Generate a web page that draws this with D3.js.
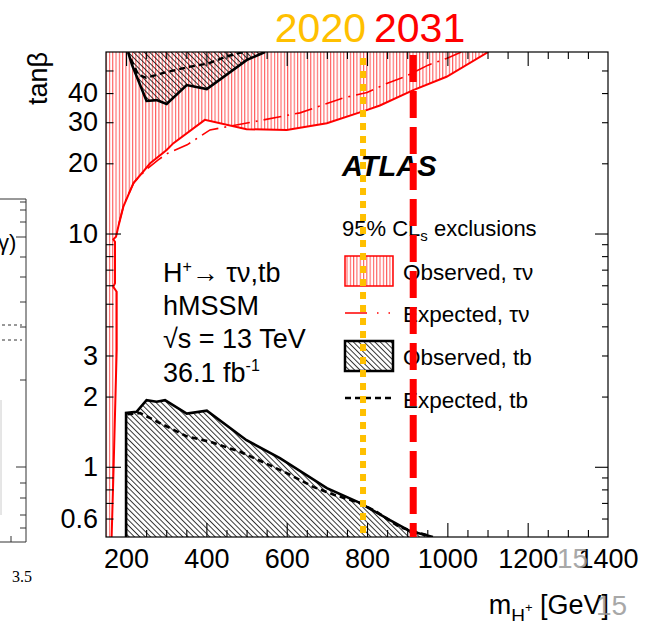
<!DOCTYPE html>
<html>
<head>
<meta charset="utf-8">
<script src="https://cdn.jsdelivr.net/npm/d3@7"></script>
<style>
  html, body { margin: 0; padding: 0; background: #fff; }
  svg { display: block; font-family: "Liberation Sans", Arial, Helvetica, sans-serif; }
</style>
</head>
<body>
<div id="chart"></div>
<script>
// axis labels
const massTicks = [200, 400, 600, 800, 1000, 1200, 1400];
const tanbTicks = [0.6, 1, 2, 3, 10, 20, 30, 40];

// [m_H+, tanb] boundaries
const obsTauNu = [[164, 0.5], [169, 1.0], [176.6, 3.17], [176.6, 5.63], [168.2, 5.91], [172.4, 6.12],
  [172.4, 9.22], [168.2, 9.44], [174.9, 9.69], [180.6, 10.7], [193, 13.0], [218, 16.4], [260, 20.0],
  [301, 22.8], [318, 24.4], [396, 30.7], [500, 28.0], [600, 27.8], [700, 29.7], [799, 33.8],
  [832, 35.4], [915, 41.2], [998, 47.0], [1102, 60]];
const expTauNu = [[182, 11], [195, 13.4], [220, 16.6], [250, 18.8], [280, 20.7], [304, 22.1],
  [352, 24], [409, 27.8], [516, 30.1], [633, 32.9], [740, 38.1], [800, 40.2], [849, 44],
  [894, 47], [952, 52.7], [998, 56.3], [1035, 60]];
const obsTbLow = [[200, 0.5], [200, 1.70], [226, 1.72], [251, 1.93], [276, 1.90], [297, 1.93],
  [351, 1.69], [401, 1.74], [500, 1.30], [583, 1.09], [700, 0.81], [782, 0.70], [857, 0.59],
  [907, 0.53], [964, 0.5]];
const expTbLow = [[203, 1.68], [235, 1.70], [284, 1.54], [351, 1.35], [409, 1.28], [484, 1.16],
  [550, 1.03], [600, 0.94], [666, 0.82], [716, 0.76], [782, 0.70], [824, 0.64], [882, 0.55],
  [948, 0.51]];
const obsTbHigh = [[205, 60], [215, 52.7], [251, 37], [276, 37.3], [301, 35.9], [351, 43.3],
  [401, 41.6], [500, 55.4], [546, 60]];
const expTbHigh = [[212, 56], [230, 48], [250, 46.5], [300, 49.2], [360, 51.9], [405, 53.6],
  [450, 57.4], [492, 60]];

// the two year markers drawn on the slide
const years = ['2020', '2031'];
const yearMass = [790, 915];
const yearColors = ['#FFC000', '#FF0000'];

// leftover bits of the neighbouring plot on the slide
const sideTicks = [202, 210, 222, 237, 257, 277, 302, 327, 380, 467, 483, 498, 515, 528];

const W = 654, H = 621;
const svg = d3.select('#chart').append('svg')
  .attr('width', W).attr('height', H)
  .attr('viewBox', `0 0 ${W} ${H}`);

const x = d3.scaleLinear().domain([150, 1400]).range([106, 608]);
const y = d3.scaleLog().domain([0.5, 60]).range([537, 52]);

const defs = svg.append('defs');
defs.append('pattern')
  .attr('id', 'redHatch')
  .attr('patternUnits', 'userSpaceOnUse')
  .attr('width', 3.3).attr('height', 10)
  .append('line')
  .attr('x1', 0.6).attr('x2', 0.6).attr('y1', 0).attr('y2', 10)
  .attr('stroke', '#ff3b3b').attr('stroke-width', 0.9);
defs.append('pattern')
  .attr('id', 'blackHatch')
  .attr('patternUnits', 'userSpaceOnUse')
  .attr('width', 3.8).attr('height', 10)
  .attr('patternTransform', 'rotate(-45)')
  .append('line')
  .attr('x1', 0.5).attr('x2', 0.5).attr('y1', 0).attr('y2', 10)
  .attr('stroke', '#000').attr('stroke-width', 0.8);

const line = d3.line().x(d => x(d[0])).y(d => y(d[1]));
const plot = svg.append('g');

plot.append('clipPath').attr('id', 'frameClip')
  .append('rect').attr('x', x(150)).attr('y', y(60))
  .attr('width', x(1400) - x(150)).attr('height', y(0.5) - y(60));
const inner = plot.append('g').attr('clip-path', 'url(#frameClip)');

// tau-nu observed exclusion (above / left of curve)
inner.append('path')
  .attr('d', line([[150, 0.5], ...obsTauNu, [150, 60]]) + 'Z')
  .attr('fill', 'url(#redHatch)');
inner.append('path')
  .attr('d', line(obsTauNu))
  .attr('fill', 'none').attr('stroke', '#ff0000').attr('stroke-width', 2);
inner.append('path')
  .attr('d', line(expTauNu))
  .attr('fill', 'none').attr('stroke', '#ff0000').attr('stroke-width', 1.6)
  .attr('stroke-dasharray', '18,6,2,6');

// tb regions
inner.append('path')
  .attr('d', line(obsTbLow) + 'Z')
  .attr('fill', 'url(#blackHatch)');
inner.append('path')
  .attr('d', line(obsTbLow.slice(0, -1)))
  .attr('fill', 'none').attr('stroke', '#000').attr('stroke-width', 2.6);
inner.append('path')
  .attr('d', line(obsTbLow.slice(-2)))
  .attr('fill', 'none').attr('stroke', '#000').attr('stroke-width', 2.6);
inner.append('path')
  .attr('d', line(expTbLow))
  .attr('fill', 'none').attr('stroke', '#000').attr('stroke-width', 2.6)
  .attr('stroke-dasharray', '6,4');

inner.append('path')
  .attr('d', line(obsTbHigh) + 'Z')
  .attr('fill', 'url(#blackHatch)');
inner.append('path')
  .attr('d', line(obsTbHigh))
  .attr('fill', 'none').attr('stroke', '#000').attr('stroke-width', 2.6);
inner.append('path')
  .attr('d', line(expTbHigh))
  .attr('fill', 'none').attr('stroke', '#000').attr('stroke-width', 2.4)
  .attr('stroke-dasharray', '6,4');

// frame + ticks
plot.append('rect')
  .attr('x', x(150)).attr('y', y(60))
  .attr('width', x(1400) - x(150)).attr('height', y(0.5) - y(60))
  .attr('fill', 'none').attr('stroke', '#000').attr('stroke-width', 1.2);

const minorX = d3.range(250, 1400, 50).filter(v => v % 200 !== 0);
const minorY = [0.6, 0.7, 0.8, 0.9, 2, 3, 4, 5, 6, 7, 8, 9, 20, 30, 40, 50];
const majorY = [1, 10];

function ticks(axis, tx, ty) {
  plot.append('g')
    .attr('transform', `translate(${tx},${ty})`)
    .call(axis)
    .call(g => g.select('.domain').remove())
    .call(g => g.selectAll('line').attr('stroke', '#000').attr('stroke-width', 1.1));
}
ticks(d3.axisBottom(x).tickValues(minorX).tickSize(-7).tickFormat(''), 0, y(0.5));
ticks(d3.axisBottom(x).tickValues(massTicks.slice(0, -1)).tickSize(-14).tickFormat(''), 0, y(0.5));
ticks(d3.axisTop(x).tickValues(minorX).tickSize(-7).tickFormat(''), 0, y(60));
ticks(d3.axisTop(x).tickValues(massTicks.slice(0, -1)).tickSize(-14).tickFormat(''), 0, y(60));
ticks(d3.axisLeft(y).tickValues(minorY).tickSize(-7.5).tickFormat(''), x(150), 0);
ticks(d3.axisLeft(y).tickValues(majorY).tickSize(-15).tickFormat(''), x(150), 0);
ticks(d3.axisRight(y).tickValues(minorY).tickSize(-6).tickFormat(''), x(1400), 0);
ticks(d3.axisRight(y).tickValues(majorY).tickSize(-13).tickFormat(''), x(1400), 0);

// tick labels
plot.append('g')
  .attr('transform', `translate(0,${y(0.5)})`)
  .call(d3.axisBottom(x).tickValues(massTicks).tickSize(0).tickPadding(12).tickFormat(d3.format('d')))
  .call(g => g.select('.domain').remove())
  .attr('font-size', 27).attr('font-family', null);
plot.append('g')
  .attr('transform', `translate(${x(150)},0)`)
  .call(d3.axisLeft(y).tickValues(tanbTicks).tickSize(0).tickPadding(8).tickFormat(d3.format('~g')))
  .call(g => g.select('.domain').remove())
  .attr('font-size', 27).attr('font-family', null);

// axis titles
svg.append('text')
  .attr('transform', 'translate(47,105) rotate(-90)')
  .attr('font-size', 27)
  .text('tanβ');

const xt = svg.append('text')
  .attr('x', 609).attr('y', 614)
  .attr('text-anchor', 'end')
  .attr('font-size', 27);
xt.append('tspan').text('m');
xt.append('tspan').attr('dy', 8).attr('font-size', 19).text('H');
xt.append('tspan').attr('dy', -10).attr('font-size', 13).text('+');
xt.append('tspan').attr('dy', 2).text(' [GeV]');

// process text
const info = svg.append('g').attr('font-size', 27);
const t1 = info.append('text').attr('x', 163).attr('y', 282);
t1.append('tspan').text('H');
t1.append('tspan').attr('dy', -10).attr('font-size', 16).text('+');
t1.append('tspan').attr('dy', 10).text('\u2192 τν,tb');
info.append('text').attr('x', 163).attr('y', 315).text('hMSSM');
info.append('text').attr('x', 163).attr('y', 348).text('\u221As = 13 TeV');
const t4 = info.append('text').attr('x', 163).attr('y', 382);
t4.append('tspan').text('36.1 fb');
t4.append('tspan').attr('dy', -11).attr('font-size', 16).text('-1');

// ATLAS + legend
svg.append('text')
  .attr('x', 342).attr('y', 176)
  .attr('font-size', 29).attr('font-weight', 'bold').attr('font-style', 'italic')
  .text('ATLAS');

const cl = svg.append('text').attr('x', 342).attr('y', 236).attr('font-size', 22);
cl.append('tspan').text('95% CL');
cl.append('tspan').attr('dy', 5).attr('font-size', 15).text('s');
cl.append('tspan').attr('dy', -5).text(' exclusions');

const leg = svg.append('g').attr('font-size', 22.5);
leg.append('rect').attr('x', 345).attr('y', 256).attr('width', 48).attr('height', 30)
  .attr('fill', 'url(#redHatch)').attr('stroke', '#ff0000').attr('stroke-width', 1.5);
leg.append('text').attr('x', 403).attr('y', 280).text('Observed, τν');
leg.append('line').attr('x1', 345).attr('x2', 393).attr('y1', 313).attr('y2', 313)
  .attr('stroke', '#ff0000').attr('stroke-width', 1.6).attr('stroke-dasharray', '22,10,1.5,10,1.5,20');
leg.append('text').attr('x', 403).attr('y', 322).text('Expected, τν');
leg.append('rect').attr('x', 345).attr('y', 341).attr('width', 48).attr('height', 30)
  .attr('fill', 'url(#blackHatch)').attr('stroke', '#000').attr('stroke-width', 2.5);
leg.append('text').attr('x', 403).attr('y', 365).text('Observed, tb');
leg.append('line').attr('x1', 345).attr('x2', 393).attr('y1', 398).attr('y2', 398)
  .attr('stroke', '#000').attr('stroke-width', 2.4).attr('stroke-dasharray', '6,4');
leg.append('text').attr('x', 403).attr('y', 408).text('Expected, tb');

// year markers on top
svg.append('line')
  .attr('x1', x(yearMass[0])).attr('x2', x(yearMass[0]))
  .attr('y1', 58).attr('y2', 537)
  .attr('stroke', yearColors[0]).attr('stroke-width', 6).attr('stroke-dasharray', '7,6');
svg.append('line')
  .attr('x1', x(yearMass[1])).attr('x2', x(yearMass[1]))
  .attr('y1', 55).attr('y2', 537)
  .attr('stroke', yearColors[1]).attr('stroke-width', 7).attr('stroke-dasharray', '27,9');
svg.append('text')
  .attr('x', 366).attr('y', 42).attr('text-anchor', 'end')
  .attr('font-size', 41).attr('fill', yearColors[0])
  .text(years[0]);
svg.append('text')
  .attr('x', 374).attr('y', 42)
  .attr('font-size', 41).attr('fill', yearColors[1])
  .text(years[1]);

// slide leftovers: neighbouring plot edge and page number ghosts
const side = svg.append('g').attr('stroke', '#333').attr('stroke-width', 1);
side.append('path').attr('d', 'M0,199H26V542H0').attr('fill', 'none');
side.selectAll('line.st').data(sideTicks).join('line')
  .attr('class', 'st')
  .attr('x1', 26).attr('x2', (d, i) => (i === 3 || i === 9) ? 16 : 20)
  .attr('y1', d => d).attr('y2', d => d);
side.append('line').attr('x1', 11).attr('x2', 11).attr('y1', 542).attr('y2', 536);
side.append('line').attr('x1', 1).attr('x2', 1).attr('y1', 400).attr('y2', 515)
  .attr('stroke', '#ccc');
side.append('path').attr('d', 'M2,325H22M2,340H22').attr('stroke-dasharray', '3,3');
svg.append('text').attr('x', -2).attr('y', 250).attr('font-size', 22).text('γ)');
svg.append('text').attr('x', 12).attr('y', 582).attr('font-size', 16)
  .attr('font-family', '"Liberation Serif", serif').text('3.5');

svg.append('text').attr('x', 557).attr('y', 568).attr('font-size', 28)
  .attr('fill', '#999').attr('opacity', 0.85).text('15');
svg.append('text').attr('x', 596).attr('y', 615).attr('font-size', 28)
  .attr('fill', '#999').attr('opacity', 0.85).text('15');
</script>
</body>
</html>
